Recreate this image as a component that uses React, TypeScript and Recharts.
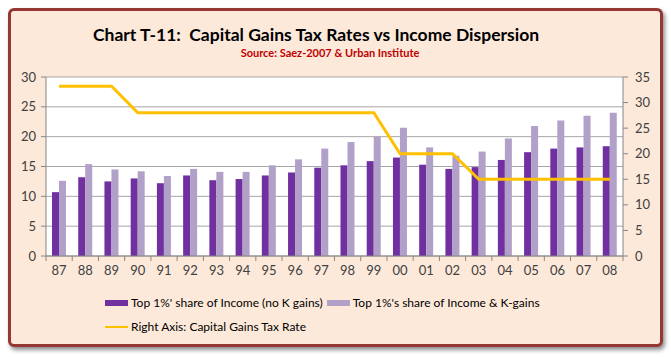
import { ComposedChart, Bar, Line, XAxis, YAxis, CartesianGrid } from "recharts";

const years = ["87", "88", "89", "90", "91", "92", "93", "94", "95", "96", "97", "98", "99", "00", "01", "02", "03", "04", "05", "06", "07", "08"];
const topShareNoKGains = [10.7, 13.2, 12.5, 13.0, 12.2, 13.5, 12.7, 12.9, 13.5, 14.0, 14.8, 15.2, 15.9, 16.5, 15.3, 14.6, 14.9, 16.1, 17.4, 18.0, 18.2, 18.4];
const topShareWithKGains = [12.6, 15.4, 14.5, 14.2, 13.4, 14.6, 14.1, 14.1, 15.2, 16.2, 18.0, 19.1, 20.0, 21.5, 18.2, 16.8, 17.5, 19.7, 21.8, 22.7, 23.5, 24.0];
const capGainsTaxRate = [33.2, 33.2, 33.2, 28, 28, 28, 28, 28, 28, 28, 28, 28, 28, 20, 20, 20, 15, 15, 15, 15, 15, 15];
const leftTicks = [0, 5, 10, 15, 20, 25, 30];
const rightTicks = [0, 5, 10, 15, 20, 25, 30, 35];

const data = years.map((year, i) => ({
  year,
  noK: topShareNoKGains[i],
  withK: topShareWithKGains[i],
  rate: capGainsTaxRate[i],
}));

const FONT = "Lato, 'Open Sans', sans-serif";
const DARK = "#7030A0";
const LIGHT = "#B1A0C7";
const GOLD = "#FFC000";
const AXIS = "#868686";
const PLOT_L = 46;
const PLOT_R = 623;
const BAND = (PLOT_R - PLOT_L) / years.length;

const XTick = (props: any) => {
  const { x, y, payload, index } = props;
  const last = index === years.length - 1;
  return (
    <g>
      <line x1={x - BAND / 2} x2={x - BAND / 2} y1={y} y2={y + 5} stroke={AXIS} />
      {last && <line x1={x + BAND / 2} x2={x + BAND / 2} y1={y} y2={y + 5} stroke={AXIS} />}
      <text x={x} y={y + 19} textAnchor="middle" fontSize={13} fill="#404040" fontFamily={FONT}>
        {payload.value}
      </text>
    </g>
  );
};

const Swatch = ({ color, line }: { color: string; line?: boolean }) => (
  <span
    style={{
      display: "inline-block",
      width: 23,
      height: line ? 2 : 6,
      background: color,
      marginRight: 3,
      verticalAlign: "middle",
    }}
  />
);

export default function App() {
  return (
    <div style={{ position: "absolute", left: 0, top: 0, width: 671, height: 357, background: "#fff", fontFamily: FONT }}>
      <div
        style={{
          position: "absolute",
          left: 8,
          top: 8,
          width: 649,
          height: 333,
          background: "#FDE9DA",
          border: "3px solid #953735",
          borderRadius: 6,
          boxShadow: "2px 3px 4px rgba(0,0,0,0.45)",
        }}
      />
      <div style={{ position: "absolute", left: 0, width: 632, top: 24, textAlign: "center", fontSize: 17.5, fontWeight: 700, color: "#000" }}>
        Chart T-11:&nbsp; Capital Gains Tax Rates vs Income Dispersion
      </div>
      <div style={{ position: "absolute", left: 0, width: 660, top: 46, textAlign: "center", fontSize: 11, fontWeight: 700, color: "#C00000" }}>
        Source: Saez-2007 &amp; Urban Institute
      </div>
      <div style={{ position: "absolute", left: 0, top: 0 }}>
        <ComposedChart
          width={671}
          height={357}
          data={data}
          margin={{ top: 77, right: 0, left: 0, bottom: 71 }}
          barGap={0}
          barSize={7}
        >
          <CartesianGrid vertical={false} fill="#fff" stroke="#A6A6A6" yAxisId="left" />
          <XAxis
            dataKey="year"
            tick={<XTick />}
            tickLine={false}
            tickSize={0}
            tickMargin={0}
            height={30}
            stroke={AXIS}
            interval={0}
          />
          <YAxis
            yAxisId="left"
            domain={[0, 30]}
            ticks={leftTicks}
            width={PLOT_L}
            tickSize={5}
            tickMargin={5}
            stroke={AXIS}
            tick={{ fontSize: 13, fill: "#404040", fontFamily: FONT }}
            interval={0}
          />
          <YAxis
            yAxisId="right"
            orientation="right"
            domain={[0, 35]}
            ticks={rightTicks}
            width={671 - PLOT_R}
            tickSize={5}
            tickMargin={7}
            stroke={AXIS}
            tick={{ fontSize: 13, fill: "#404040", fontFamily: FONT, textAnchor: "start" }}
            interval={0}
          />
          <Bar yAxisId="left" dataKey="noK" fill={DARK} isAnimationActive={false} />
          <Bar yAxisId="left" dataKey="withK" fill={LIGHT} isAnimationActive={false} />
          <Line
            yAxisId="right"
            dataKey="rate"
            type="linear"
            stroke={GOLD}
            strokeWidth={3}
            dot={false}
            isAnimationActive={false}
          />
        </ComposedChart>
      </div>
      <div style={{ position: "absolute", left: 105, top: 294, fontSize: 12, color: "#000", whiteSpace: "nowrap" }}>
        <Swatch color={DARK} />
        <span style={{ verticalAlign: "middle" }}>Top 1%' share of Income (no K gains)</span>
        <span style={{ display: "inline-block", width: 4 }} />
        <Swatch color={LIGHT} />
        <span style={{ verticalAlign: "middle" }}>Top 1%'s share of Income &amp; K-gains</span>
      </div>
      <div style={{ position: "absolute", left: 105, top: 318, fontSize: 12, color: "#000", whiteSpace: "nowrap" }}>
        <Swatch color={GOLD} line />
        <span style={{ verticalAlign: "middle" }}>Right Axis: Capital Gains Tax Rate</span>
      </div>
    </div>
  );
}
